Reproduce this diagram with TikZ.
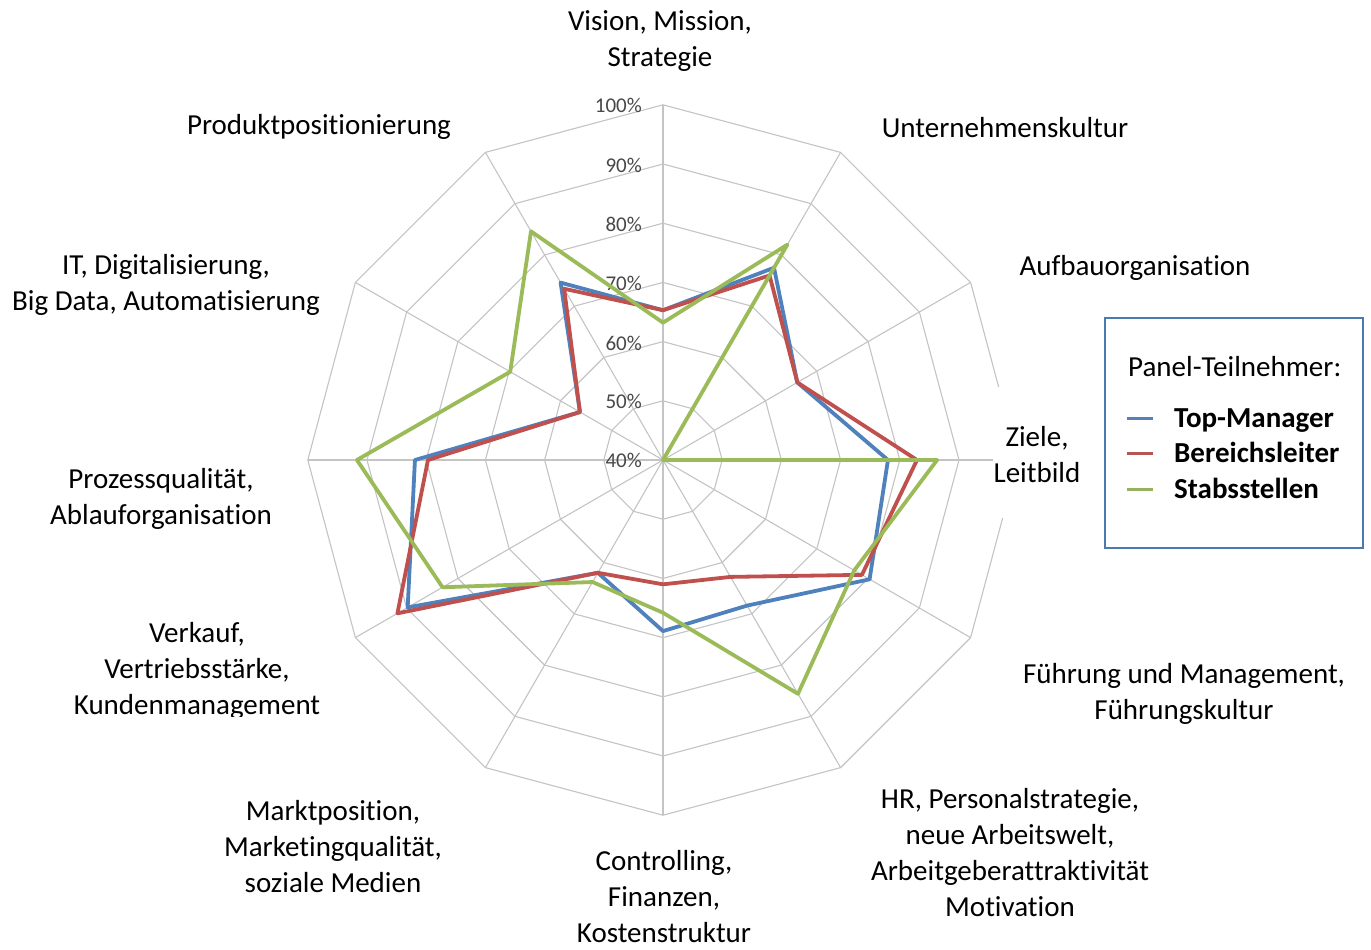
\documentclass[tikz,border=0pt]{standalone}
\usepackage{fontspec}
\setmainfont{Carlito}[Ligatures=NoCommon]
\definecolor{gridgray}{HTML}{C4C4C4}
\definecolor{tickgray}{HTML}{484848}
\definecolor{tmblue}{HTML}{4F81BD}
\definecolor{blred}{HTML}{C0504D}
\definecolor{ssgreen}{HTML}{9BBB59}
\definecolor{legborder}{HTML}{4A7AAE}
\begin{document}
\begin{tikzpicture}[x=1pt,y=-1pt,
  grid/.style={draw=gridgray, line width=1.1pt},
  serie/.style={line width=3.8pt, line join=round},
  lab/.style={font=\fontsize{29}{36}\selectfont, align=center, text=black, inner sep=0pt},
  tick/.style={font=\fontsize{21}{24}\selectfont, text=tickgray, anchor=east, inner sep=0pt},
  legline/.style={line width=3pt},
  legtext/.style={font=\fontsize{29}{36}\selectfont, anchor=base west, inner sep=0pt},
  legbold/.style={legtext, font=\fontsize{29}{36}\selectfont\bfseries}]
\useasboundingbox[fill=white] (0,0) rectangle (1371,950);
\coordinate (c) at (663,460);
\begin{scope}[shift={(663,460)}]
  % rings
  \foreach \i in {1,...,6}{
    \pgfmathsetmacro\r{\i*59.2}
    \draw[grid] (-90:\r) \foreach \k in {1,...,11}{ -- (\k*30-90:\r)} -- cycle;
  }
  % spokes
  \foreach \k in {0,...,11} \draw[grid] (0,0) -- (\k*30-90:355.2);
  % data points
  \foreach \v [count=\k from 0] in {65.3,77.5,66.2,78,80.3,68.4,68.9,62,89.8,81.9,56.2,74.6}
    {\coordinate (tm\k) at (\k*30-90:{(\v-40)*5.92});}
  \foreach \v [count=\k from 0] in {65.3,76,66.2,82.9,78.8,62.8,61,62,91.8,79.7,56.2,73.4}
    {\coordinate (bl\k) at (\k*30-90:{(\v-40)*5.92});}
  \foreach \v [count=\k from 0] in {63.2,82,40,86.3,77.3,85.6,65.8,63.8,83,91.7,69.8,84.6}
    {\coordinate (ss\k) at (\k*30-90:{(\v-40)*5.92});}
\end{scope}
% occluded grid behind the Ziele label
\fill[white] (993,387) rectangle (1085,518);
% tick labels
\foreach \t/\y in {40/460,50/401,60/343,70/283,80/224,90/165,100/105}
  \node[tick] (tick\t) at (642,\y) {\t\%};
% series
\draw[serie, tmblue] (tm0) \foreach \k in {1,...,11}{ -- (tm\k)} -- cycle;
\draw[serie, blred] (bl0) \foreach \k in {1,...,11}{ -- (bl\k)} -- cycle;
\draw[serie, ssgreen] (ss0) \foreach \k in {1,...,11}{ -- (ss\k)} -- cycle;
% category labels
\node[lab] (l0) at (660,41) {Vision, Mission,\\Strategie};
\node[lab] (l1) at (1005,128) {Unternehmenskultur};
\node[lab] (l2) at (1135,268) {Aufbauorganisation};
\node[lab] (l3) at (1037,455) {Ziele,\\Leitbild};
\node[lab] (l4) at (1184,694) {Führung und Management,\\Führungskultur};
\node[lab] (l5) at (1010,853) {HR, Personalstrategie,\\neue Arbeitswelt,\\Arbeitgeberattraktivität\\Motivation};
\node[lab] (l6) at (664,897) {Controlling,\\Finanzen,\\Kostenstruktur};
\node[lab] (l7) at (333,847) {Marktposition,\\Marketingqualität,\\soziale Medien};
\begin{scope}
  \clip (0,0) rectangle (1371,716);
  \node[lab] (l8) at (197,671) {Verkauf,\\Vertriebsstärke,\\Kundenmanagement};
\end{scope}
\node[lab] (l9) at (161,499) {Prozessqualität,\\Ablauforganisation};
\node[lab] (l10) at (166,285) {IT, Digitalisierung,\\Big Data, Automatisierung};
\node[lab] (l11) at (319,127) {Produktpositionierung};
% legend
\node[draw=legborder, line width=2pt, minimum width=258pt, minimum height=230pt, inner sep=0pt] (legend) at (1234,433) {};
\node[legtext] (legtitle) at (1128,376) {Panel-Teilnehmer:};
\coordinate (lg1a) at (1127,418); \coordinate (lg1b) at (1153,418);
\coordinate (lg2a) at (1127,453); \coordinate (lg2b) at (1153,453);
\coordinate (lg3a) at (1127,489); \coordinate (lg3b) at (1153,489);
\draw[legline, tmblue!85!gray] (lg1a) -- (lg1b);
\draw[legline, blred!85!gray] (lg2a) -- (lg2b);
\draw[legline, ssgreen!85!gray] (lg3a) -- (lg3b);
\node[legbold] (leg1) at (1174,427) {Top-Manager};
\node[legbold] (leg2) at (1174,462) {Bereichsleiter};
\node[legbold] (leg3) at (1174,498) {Stabsstellen};
\end{tikzpicture}
\end{document}
